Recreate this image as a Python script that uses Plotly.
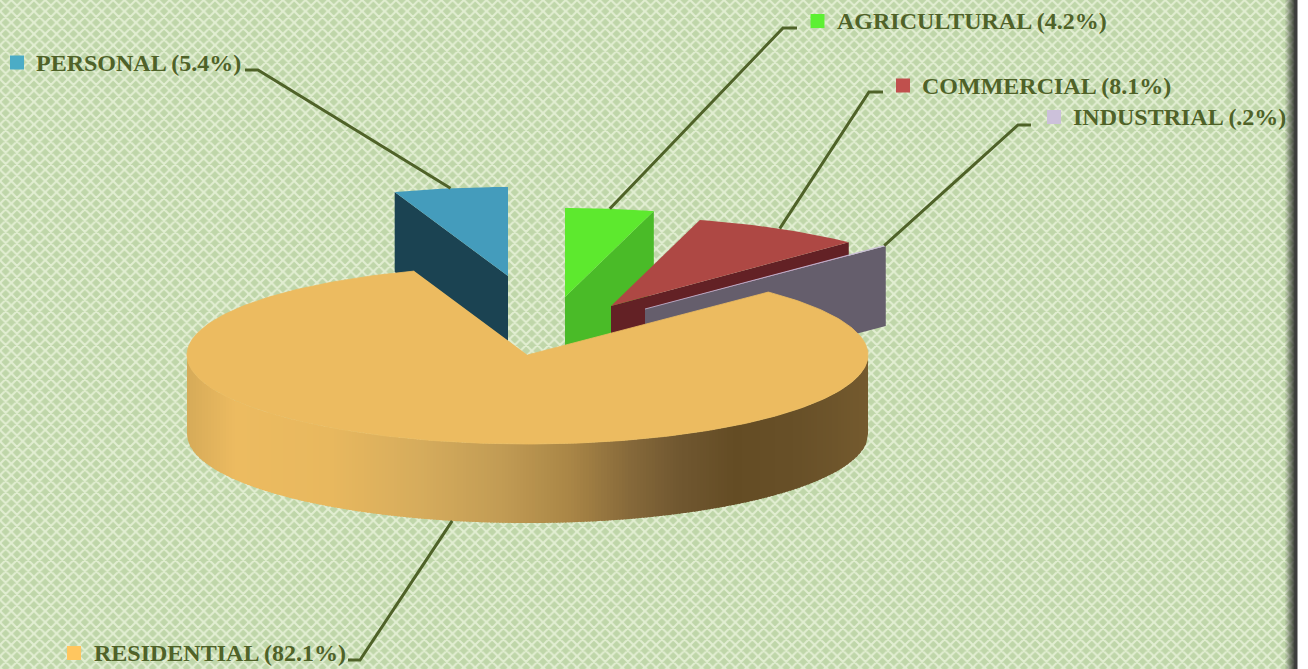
import math
import plotly.graph_objects as go

# Pie data, in clockwise order from twelve o'clock
sectors = ["AGRICULTURAL", "COMMERCIAL", "INDUSTRIAL", "RESIDENTIAL", "PERSONAL"]
shares = [4.2, 8.1, 0.2, 82.1, 5.4]
labels = ["AGRICULTURAL (4.2%)", "COMMERCIAL (8.1%)", "INDUSTRIAL (.2%)",
          "RESIDENTIAL (82.1%)", "PERSONAL (5.4%)"]

W, H = 1308, 669
CX, CY, RX, RY, DEPTH = 527.5, 355.0, 340.5, 89.0, 79.0
INK = "#4F6228"

# Exploded offset of each wedge's apex from the pie centre
shift = {"AGRICULTURAL": (37.5, -58), "COMMERCIAL": (83.5, -49), "INDUSTRIAL": (117.5, -46),
         "RESIDENTIAL": (0, 0), "PERSONAL": (-19.5, -79)}
top_color = {"AGRICULTURAL": "#5DE92E", "COMMERCIAL": "#AE4844", "INDUSTRIAL": "#C9BBD9",
             "RESIDENTIAL": "#ECBB60", "PERSONAL": "#449CBC"}
wall_color = {"AGRICULTURAL": "#4ABB28", "COMMERCIAL": "#632125", "INDUSTRIAL": "#655E6C",
              "PERSONAL": "#1B4352"}
key_color = {"AGRICULTURAL": "#5CF032", "COMMERCIAL": "#C0504D", "INDUSTRIAL": "#CCC1DA",
             "RESIDENTIAL": "#FFC65F", "PERSONAL": "#4BACC6"}
# Legend key centre, text start, and the bend of the leader line
key_pos = {"AGRICULTURAL": (817.5, 21, 835, 797, 783), "COMMERCIAL": (903, 85.5, 920, 883, 869),
           "INDUSTRIAL": (1054, 117, 1071, 1031, 1018), "RESIDENTIAL": (74, 653, 92, 348, 360),
           "PERSONAL": (17, 62.5, 34, 245, 258)}
leader_y = {"AGRICULTURAL": 28, "COMMERCIAL": 92, "INDUSTRIAL": 125, "RESIDENTIAL": 660, "PERSONAL": 70}
# Shading across the rim of the pie: (x, colour)
rim_stops = [(187, (214, 170, 88)), (235, (236, 187, 96)), (330, (232, 184, 94)), (420, (214, 172, 92)),
             (500, (194, 156, 84)), (570, (170, 134, 70)), (630, (134, 105, 58)), (680, (112, 87, 48)),
             (735, (100, 76, 36)), (800, (104, 80, 40)), (868, (116, 90, 46))]

# Angular span of each wedge, measured counter-clockwise from three o'clock
spans = {}
angle = 90.0
for name, share in zip(sectors, shares):
    spans[name] = (angle, angle - share * 3.6)
    angle -= share * 3.6


def point(theta, cx=CX, cy=CY):
    t = math.radians(theta)
    return cx + RX * math.cos(t), cy - RY * math.sin(t)


def rim_color(x):
    for (x0, c0), (x1, c1) in zip(rim_stops, rim_stops[1:]):
        if x <= x1:
            f = max(0, (x - x0) / (x1 - x0))
            return "rgb(%d,%d,%d)" % tuple(round(a + (b - a) * f) for a, b in zip(c0, c1))
    return "rgb(%d,%d,%d)" % rim_stops[-1][1]


def front_y(x):
    u = max(-1.0, min(1.0, (x - CX) / RX))
    return CY + RY * math.sqrt(1 - u * u)


fig = go.Figure()


def poly(xs, ys, color, edge=False):
    fig.add_trace(go.Scatter(x=xs, y=ys, mode="lines", fill="toself", fillcolor=color,
                             line=dict(color=color, width=0.8 if edge else 0), hoverinfo="skip"))


# Woven background
fig.add_trace(go.Scatter(x=[0, 1297, 1297, 0], y=[0, 0, H, H], mode="lines", fill="toself",
                         line=dict(width=0), hoverinfo="skip",
                         fillpattern=dict(shape="x", size=8, solidity=0.45,
                                          fgcolor="#E2EED2", bgcolor="#BFD6A9", fillmode="replace")))
# Shadowed right-hand edge
for i in range(10):
    poly([1285 + i, 1286 + i, 1286 + i, 1285 + i], [0, 0, H, H], "rgba(30,30,30,%.2f)" % (0.08 * (i + 1)))
poly([1294.5, 1297.5, 1297.5, 1294.5], [0, 0, H, H], "#3C3C3C")

# Exploded wedges, back to front; each shows the radial wall facing the viewer
for name in ["PERSONAL", "AGRICULTURAL", "COMMERCIAL", "INDUSTRIAL"]:
    a0, a1 = spans[name]
    cx, cy = CX + shift[name][0], CY + shift[name][1]
    leans_left = math.cos(math.radians((a0 + a1) / 2)) < 0
    pick = min if leans_left else max
    edge_angle = pick((a0, a1), key=lambda a: math.cos(math.radians(a)))
    ex, ey = point(edge_angle, cx, cy)
    poly([cx, ex, ex, cx], [cy, ey, ey + DEPTH + 1, cy + DEPTH + 1], wall_color[name])
    n = 24
    arc = [point(a0 + (a1 - a0) * k / n, cx, cy) for k in range(n + 1)]
    poly([cx] + [p[0] for p in arc], [cy] + [p[1] for p in arc], top_color[name], edge=name == "INDUSTRIAL")

# Residential rim, painted left to right in slightly overlapping strips, then its top face
left, right = CX - RX, CX + RX
strip = 3.0
count = int((right - left) / strip) + 1
for k in range(count):
    x0 = left + k * strip
    x1 = min(right, x0 + strip + 1.5)
    xs = [x0 + (x1 - x0) * j / 6 for j in range(7)]
    if k == 0:
        # finer sampling where the rim turns the corner
        xs = [left + (x1 - left) * (j / 12) ** 2 for j in range(13)]
    top = [front_y(x) for x in xs]
    poly(xs + xs[::-1], top + [y + DEPTH for y in top[::-1]], rim_color(x0 + strip / 2))
a0, a1 = spans["RESIDENTIAL"]
arc = [point(a0 + (a1 - a0) * k / 300) for k in range(301)]
poly([CX] + [p[0] for p in arc], [CY] + [p[1] for p in arc], top_color["RESIDENTIAL"], edge=True)

# Legend keys, labels and leader lines
annotations = []
for name, label in zip(sectors, labels):
    kx, ky, tx, lx0, lx1 = key_pos[name]
    fig.add_trace(go.Scatter(x=[kx], y=[ky], mode="markers", hoverinfo="skip",
                             marker=dict(symbol="square", size=14, color=key_color[name], line=dict(width=0))))
    annotations.append(dict(x=tx, y=ky, xref="x", yref="y", text=label, showarrow=False,
                            xanchor="left", yanchor="middle",
                            font=dict(family="Liberation Serif", size=24, color=INK, weight="bold")))
    a0, a1 = spans[name]
    cx, cy = CX + shift[name][0], CY + shift[name][1]
    ex, ey = point((a0 + a1) / 2, cx, cy)
    if name == "RESIDENTIAL":
        ey += DEPTH
    fig.add_trace(go.Scatter(x=[lx0, lx1, ex], y=[leader_y[name]] * 2 + [ey], mode="lines", hoverinfo="skip",
                             line=dict(color=INK, width=3)))

fig.update_layout(
    width=W, height=H, margin=dict(l=0, r=0, t=0, b=0), showlegend=False,
    paper_bgcolor="white", plot_bgcolor="white", annotations=annotations,
    xaxis=dict(range=[0, W], visible=False, fixedrange=True),
    yaxis=dict(range=[H, 0], visible=False, fixedrange=True),
)
fig.write_html("out.html", config=dict(displayModeBar=False))
